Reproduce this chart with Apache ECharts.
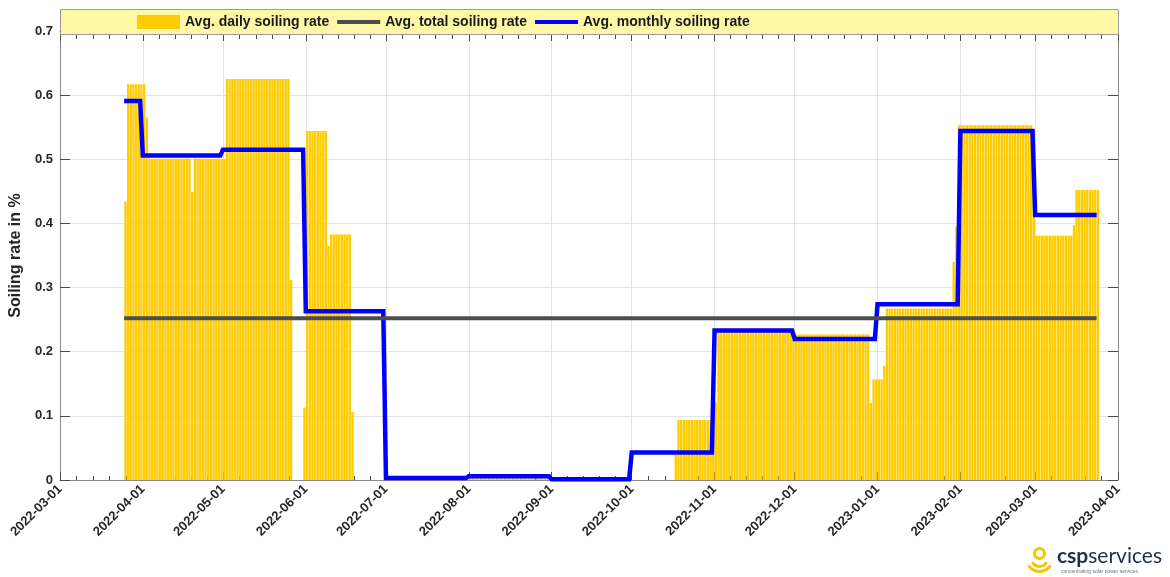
<!DOCTYPE html>
<html>
<head>
<meta charset="utf-8">
<script src="https://cdn.jsdelivr.net/npm/echarts@6/dist/echarts.min.js"></script>
<style>
  html, body { margin: 0; padding: 0; background: #ffffff; }
  #chart { width: 1170px; height: 577px; }
</style>
</head>
<body>
<div id="chart"></div>
<script>
// Daily soiling rate in %, stored as runs: [first day, number of days, rate]
const dailyRuns = [
  ['2022-03-25', 1, 0.434],
  ['2022-03-26', 7, 0.617],
  ['2022-04-02', 1, 0.565],
  ['2022-04-03', 16, 0.501],
  ['2022-04-19', 1, 0.449],
  ['2022-04-20', 12, 0.501],
  ['2022-05-02', 24, 0.625],
  ['2022-05-26', 1, 0.312],
  ['2022-05-27', 4, 0],
  ['2022-05-31', 1, 0.113],
  ['2022-06-01', 8, 0.544],
  ['2022-06-09', 1, 0.365],
  ['2022-06-10', 8, 0.383],
  ['2022-06-18', 1, 0.106],
  ['2022-06-19', 12, 0],
  ['2022-07-01', 31, 0.003],
  ['2022-08-01', 31, 0.008],
  ['2022-09-01', 30, 0],
  ['2022-10-01', 16, 0],
  ['2022-10-17', 1, 0.039],
  ['2022-10-18', 14, 0.0935],
  ['2022-11-01', 1, 0.121],
  ['2022-11-02', 29, 0.236],
  ['2022-12-01', 28, 0.227],
  ['2022-12-29', 1, 0.120],
  ['2022-12-30', 4, 0.157],
  ['2023-01-03', 1, 0.178],
  ['2023-01-04', 25, 0.2675],
  ['2023-01-29', 1, 0.340],
  ['2023-01-30', 1, 0.395],
  ['2023-01-31', 28, 0.553],
  ['2023-02-28', 1, 0.496],
  ['2023-03-01', 14, 0.381],
  ['2023-03-15', 1, 0.397],
  ['2023-03-16', 9, 0.452]
];

// Monthly average soiling rate in %
const monthStarts = ['2022-03-01', '2022-04-01', '2022-05-01', '2022-06-01', '2022-07-01',
  '2022-08-01', '2022-09-01', '2022-10-01', '2022-11-01', '2022-12-01', '2023-01-01',
  '2023-02-01', '2023-03-01'];
const monthlyRates = [0.591, 0.506, 0.515, 0.263, 0.003, 0.006, 0.001, 0.043, 0.233,
  0.220, 0.274, 0.544, 0.413];

// Average over the whole period
const totalRate = 0.252;

// Date axis tick labels
const tickDates = ['2022-03-01', '2022-04-01', '2022-05-01', '2022-06-01', '2022-07-01',
  '2022-08-01', '2022-09-01', '2022-10-01', '2022-11-01', '2022-12-01', '2023-01-01',
  '2023-02-01', '2023-03-01', '2023-04-01'];

const yTicks = [0, 0.1, 0.2, 0.3, 0.4, 0.5, 0.6, 0.7];

// ---- helpers ----
const DAY = 86400000;
function dayAt(str, offsetDays) {
  const p = str.split('-').map(Number);
  return new Date(p[0], p[1] - 1, p[2] + (offsetDays || 0)).getTime();
}
function pad(n) { return (n < 10 ? '0' : '') + n; }
function fmtDate(v) {
  const d = new Date(v);
  return d.getFullYear() + '-' + pad(d.getMonth() + 1) + '-' + pad(d.getDate());
}

// Daily bars, each centred on the middle of its day
const dailyData = [];
dailyRuns.forEach(function (r) {
  for (let k = 0; k < r[1]; k++) {
    dailyData.push([dayAt(r[0], k) + DAY / 2, r[2]]);
  }
});
const firstDay = dayAt(dailyRuns[0][0]);
const lastRun = dailyRuns[dailyRuns.length - 1];
const lastDay = dayAt(lastRun[0], lastRun[1] - 1);

// Monthly average as flat segments over each month (clipped to the measured period)
const monthlyData = [];
monthStarts.forEach(function (m, i) {
  const p = m.split('-').map(Number);
  const start = Math.max(dayAt(m), firstDay);
  const end = Math.min(new Date(p[0], p[1], 0).getTime(), lastDay);
  monthlyData.push([start, monthlyRates[i]], [end, monthlyRates[i]]);
});

const totalData = [[firstDay, totalRate], [lastDay, totalRate]];

// Month ticks and four minor ticks in between
const majorTicks = tickDates.map(function (d) { return dayAt(d); });
const minorTicks = [];
for (let i = 0; i < majorTicks.length - 1; i++) {
  for (let k = 1; k < 5; k++) {
    minorTicks.push(majorTicks[i] + (majorTicks[i + 1] - majorTicks[i]) * k / 5);
  }
}
const xMin = majorTicks[0];
const xMax = majorTicks[majorTicks.length - 1];
const PLOT_W = 1058;
const dayPx = PLOT_W * DAY / (xMax - xMin);

const FONT = 'Liberation Sans, Arial, sans-serif';
const AXIS_COLOR = '#8a8a8a';
const TICK_COLOR = '#4a4a4a';
const GRID_COLOR = '#e4e4e4';

// Legend glyph for a line series: a 4px bar across a 43x14 box
const LINE_ICON = 'path://M0,0M43,14M0,5L43,5L43,9L0,9Z';

// Date axis on a plain numeric (timestamp) scale with month ticks
function dateAxis(position, ticks, len, isMain) {
  const withLabels = isMain && position === 'bottom';
  return {
    type: 'value',
    position: position,
    min: xMin,
    max: xMax,
    scale: true,
    axisLine: { show: isMain, onZero: false, lineStyle: { color: AXIS_COLOR, width: 1 } },
    axisTick: { show: true, inside: true, length: len, customValues: ticks,
      lineStyle: { color: TICK_COLOR, width: 1 } },
    axisLabel: withLabels ? {
      show: true, customValues: majorTicks, rotate: 45, margin: 7,
      formatter: function (v) { return fmtDate(v); },
      fontFamily: FONT, fontWeight: 'bold', fontSize: 13, color: '#262626'
    } : { show: false },
    splitLine: withLabels ? { show: true, lineStyle: { color: GRID_COLOR, width: 1 } } : { show: false },
    minorTick: { show: false },
    minorSplitLine: { show: false }
  };
}

const chart = echarts.init(document.getElementById('chart'), null, { renderer: 'canvas' });

chart.setOption({
  animation: false,
  backgroundColor: '#ffffff',
  grid: { left: 60, top: 31, width: PLOT_W, height: 449, containLabel: false, outerBoundsMode: 'none' },
  xAxis: [
    dateAxis('bottom', majorTicks, 8, true),
    dateAxis('bottom', minorTicks, 4, false),
    dateAxis('top', majorTicks, 10, true),
    dateAxis('top', minorTicks, 8, false)
  ],
  yAxis: [
    {
      type: 'value', position: 'left', min: 0, max: 0.7, interval: 0.1,
      name: 'Soiling rate in %', nameLocation: 'middle', nameGap: 33,
      nameTextStyle: { fontFamily: FONT, fontWeight: 'bold', fontSize: 16, color: '#262626' },
      axisLine: { show: true, onZero: false, lineStyle: { color: AXIS_COLOR, width: 1 } },
      axisTick: { show: true, inside: true, length: 10, lineStyle: { color: TICK_COLOR } },
      axisLabel: {
        margin: 7, fontFamily: FONT, fontWeight: 'bold', fontSize: 13, color: '#262626',
        formatter: function (v) {
          const t = yTicks.find(function (y) { return Math.abs(y - v) < 1e-9; });
          return t === 0 ? '0' : String(t);
        }
      },
      splitLine: { show: true, lineStyle: { color: GRID_COLOR, width: 1 } }
    },
    {
      type: 'value', position: 'right', min: 0, max: 0.7, interval: 0.1,
      axisLine: { show: true, onZero: false, lineStyle: { color: AXIS_COLOR, width: 1 } },
      axisTick: { show: true, inside: true, length: 10, lineStyle: { color: TICK_COLOR } },
      axisLabel: { show: false },
      splitLine: { show: false }
    }
  ],
  legend: {
    left: 137, top: 15, padding: 0, z: 10,
    itemWidth: 43, itemHeight: 14, itemGap: 8,
    selectedMode: false,
    textStyle: { fontFamily: FONT, fontWeight: 'bold', fontSize: 14, color: '#1a1a1a' },
    data: [
      { name: 'Avg. daily soiling rate', icon: 'rect' },
      { name: 'Avg. total soiling rate', icon: LINE_ICON },
      { name: 'Avg. monthly soiling rate', icon: LINE_ICON }
    ]
  },
  graphic: [
    {
      type: 'rect', z: 5,
      shape: { x: 60.5, y: 9.5, width: 1058, height: 25 },
      style: { fill: '#fdf7a6', stroke: '#9a9a9a', lineWidth: 1 }
    },
    // company logo
    {
      type: 'group', left: 1026, top: 546, z: 5,
      children: [
        { type: 'circle', shape: { cx: 13, cy: 7, r: 5 },
          style: { fill: 'none', stroke: '#f6c400', lineWidth: 3 } },
        { type: 'arc', shape: { cx: 13, cy: 12, r: 8, startAngle: Math.PI * 0.15, endAngle: Math.PI * 0.85 },
          style: { fill: 'none', stroke: '#f6c400', lineWidth: 3 } },
        { type: 'arc', shape: { cx: 13, cy: 12, r: 13, startAngle: Math.PI * 0.18, endAngle: Math.PI * 0.82 },
          style: { fill: 'none', stroke: '#f6c400', lineWidth: 3 } }
      ]
    },
    {
      type: 'text', left: 1057, top: 546, z: 5,
      style: {
        text: '{a|csp}{b|services}',
        rich: {
          a: { fontFamily: 'Lato, Open Sans, sans-serif', fontWeight: 'bold', fontSize: 21, fill: '#23324a' },
          b: { fontFamily: 'Lato, Open Sans, sans-serif', fontWeight: 'normal', fontSize: 21, fill: '#23324a' }
        }
      }
    },
    {
      type: 'text', left: 1061, top: 569, z: 5,
      style: { text: 'concentrating solar power services', fontFamily: FONT, fontSize: 5, fill: '#6b7380' }
    }
  ],
  series: [
    {
      name: 'Avg. daily soiling rate',
      type: 'bar',
      xAxisIndex: 0, yAxisIndex: 0,
      data: dailyData,
      barWidth: dayPx - 0.35,
      itemStyle: { color: '#ffcc00' },
      z: 2
    },
    {
      name: 'Avg. total soiling rate',
      type: 'line',
      xAxisIndex: 0, yAxisIndex: 0,
      data: totalData,
      symbol: 'none',
      lineStyle: { color: '#4d4d4d', width: 4 },
      itemStyle: { color: '#4d4d4d' },
      z: 4
    },
    {
      name: 'Avg. monthly soiling rate',
      type: 'line',
      xAxisIndex: 0, yAxisIndex: 0,
      data: monthlyData,
      symbol: 'none',
      lineStyle: { color: '#0000ff', width: 4.5, join: 'miter' },
      itemStyle: { color: '#0000ff' },
      z: 3
    }
  ]
});
</script>
</body>
</html>
